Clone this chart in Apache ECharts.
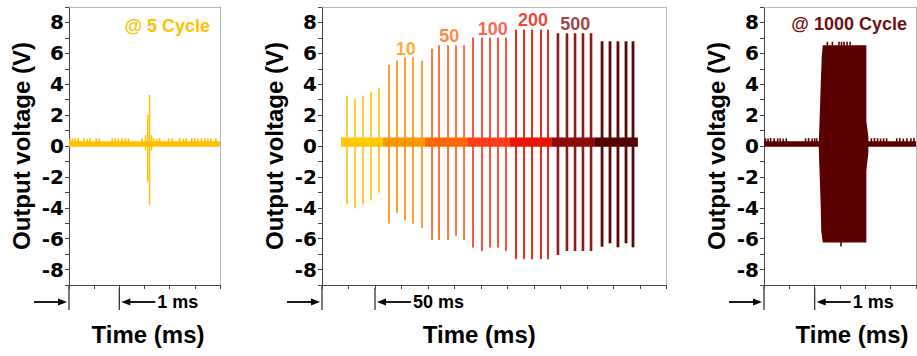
<!DOCTYPE html>
<html><head><meta charset="utf-8">
<script src="https://cdn.jsdelivr.net/npm/echarts@6/dist/echarts.min.js"></script>
<style>html,body{margin:0;padding:0;background:#fff}#c{width:917px;height:356px}</style>
</head><body><div id="c"></div>
<script>
// ================= DATA (time in ms, voltage in V) =================
var yTickLabels = [-8, -6, -4, -2, 0, 2, 4, 6, 8];
// Panel A : @ 5 Cycle
var aBand = [0, 3, -0.05, 0.3];
var aNoiseT = [0.02,0.07,0.12,0.18,0.30,0.36,0.42,0.54,0.60,0.86,0.92,0.98,1.05,1.12,1.18,1.45,1.68,1.74,1.80,1.98,2.05,2.20,2.27,2.33,2.44,2.50,2.56,2.63,2.70,2.76,2.82,2.92];
var aNoiseV = [0.50,0.48,0.52,0.50,0.50,0.46,0.52,0.50,0.48,0.50,0.52,0.48,0.50,0.52,0.50,0.50,0.50,0.48,0.52,0.50,0.50,0.52,0.48,0.50,0.50,0.52,0.48,0.50,0.52,0.50,0.48,0.50];
var aPulseT  = [1.52, 1.565, 1.60, 1.64];
var aPulseHi = [0.70, 2.00, 3.30, 0.70];
var aPulseLo = [-0.30, -2.30, -3.80, -0.30];

// Panel B : pulse trains at 5 / 10 / 50 / 100 / 200 / 500 / 1000 cycles
var bGroupNames = ['5', '10', '50', '100', '200', '500', '1000'];
var bGroupStart = [17.9, 57.5, 97.2, 137.7, 177.4, 217.0, 257.5];
var bGroupEnd   = [57.5, 97.2, 137.7, 177.4, 217.0, 257.5, 298.0];
var bBand = [-0.05, 0.55];
var bPulseT = [
  [23.6, 31.1, 38.7, 46.2, 53.8],
  [63.2, 70.8, 78.3, 85.8, 94.3],
  [103.8, 110.4, 118.9, 126.4, 134.0],
  [142.5, 150.9, 158.5, 166.0, 173.6],
  [183.0, 190.6, 198.1, 206.6, 213.2],
  [222.6, 231.1, 238.7, 246.2, 253.8],
  [264.2, 271.7, 279.2, 286.8, 293.4]
];
var bPulseHi = [
  [3.26, 3.04, 3.26, 3.52, 3.78],
  [5.26, 5.54, 5.76, 5.76, 5.52],
  [6.30, 6.52, 6.52, 6.52, 6.52],
  [7.02, 7.02, 7.02, 7.02, 7.02],
  [7.54, 7.54, 7.54, 7.54, 7.54],
  [7.30, 7.30, 7.30, 7.30, 7.30],
  [6.78, 6.78, 6.78, 6.78, 6.78]
];
var bPulseLo = [
  [-3.78, -4.04, -3.78, -3.52, -3.02],
  [-5.03, -4.33, -4.81, -5.03, -5.31],
  [-6.08, -6.08, -6.08, -5.81, -6.08],
  [-6.58, -6.80, -6.58, -6.58, -6.80],
  [-7.33, -7.33, -7.33, -7.33, -7.33],
  [-7.06, -6.80, -6.80, -6.80, -6.80],
  [-6.52, -6.30, -6.56, -6.30, -6.56]
];
var bLabelText = ['10', '50', '100', '200', '500'];
var bLabelT    = [79, 120, 161, 199, 239];
var bLabelV    = [6.3, 7.1, 7.6, 8.15, 7.9];

// Panel C : @ 1000 Cycle
var cBand = [0, 3, -0.05, 0.3];
var cNoiseT = [0.03,0.08,0.13,0.20,0.27,0.32,0.38,0.44,0.82,0.88,0.95,1.00,1.04,2.12,2.18,2.24,2.30,2.36,2.42,2.62,2.68,2.75,2.82,2.90,2.96];
var cNoiseV = [0.50,0.48,0.52,0.50,0.50,0.50,0.48,0.50,0.50,0.52,0.48,0.50,0.50,0.50,0.52,0.50,0.48,0.50,0.50,0.50,0.52,0.48,0.50,0.50,0.52];
var cBlockT = [1.16, 2.02, 2.02, 2.04, 2.06, 2.06, 2.04, 2.02, 2.02, 1.16, 1.13, 1.12, 1.10, 1.08, 1.10, 1.12, 1.14];
var cBlockV = [6.52, 6.52, 1.60, 1.10, 0.60, -0.40, -1.00, -1.60, -6.25, -6.25, -5.50, -4.00, -2.00, 0.00, 2.00, 4.00, 5.80];
var cTipT  = [1.25, 1.35, 1.48, 1.53, 1.58, 1.64, 1.70, 1.52];
var cTipHi = [6.75, 6.75, 6.75, 6.75, 6.75, 6.75, 6.75, -6.20];
var cTipLo = [6.50, 6.50, 6.50, 6.50, 6.50, 6.50, 6.50, -6.50];

// ================= STYLE =================
var cA = '#FFC000';
var cC = '#5A0000';
var bandColors  = ['#FFC800', '#FF9600', '#FF6600', '#FF3C1E', '#E81400', '#8C0A0A', '#520000'];
var pulseColors = ['#FFCF3A', '#FFA02E', '#FF7540', '#FF5038', '#F02A14', '#8E1A1A', '#5C0808'];
var pulseWidths = [2, 2, 2, 2, 2, 2.6, 2.8];
var labelColors = ['#FF9900', '#FF6A10', '#FF3A20', '#E81400', '#8B1010'];
var SANS = '"Liberation Sans", Arial, sans-serif';
var TICKF = '"DejaVu Sans", sans-serif';

var grids = [
  {left: 69, top: 7, width: 151, height: 278},
  {left: 322, top: 7, width: 344.5, height: 278},
  {left: 764, top: 7, width: 152, height: 278}
];
var xSpec = [{max: 3, interval: 0.5}, {max: 325, interval: 25}, {max: 3, interval: 0.5}];
var xNamePad = [[0, 0, 0, 7], [0, 30, 0, 0], [0, 0, 0, 24]];

function yLabelFmt(v) {
  for (var k = 0; k < yTickLabels.length; k++) if (yTickLabels[k] === v) return String(v);
  return '';
}

var xAxes = [], yAxes = [];
for (var i = 0; i < 3; i++) {
  xAxes.push({
    type: 'value', gridIndex: i, position: 'bottom', min: 0, max: xSpec[i].max, interval: xSpec[i].interval,
    name: 'Time (ms)', nameLocation: 'middle', nameGap: 37,
    nameTextStyle: {fontFamily: SANS, fontWeight: 'bold', fontSize: 24, color: '#000', padding: xNamePad[i]},
    axisLine: {show: true, onZero: false, lineStyle: {color: '#444', width: 1}},
    axisTick: {show: true, length: 4, lineStyle: {color: '#444'}},
    axisLabel: {show: false}, splitLine: {show: false}
  });
  yAxes.push({
    type: 'value', gridIndex: i, position: 'left', min: -9, max: 9, interval: 1,
    name: 'Output voltage (V)', nameLocation: 'middle', nameGap: 36,
    nameTextStyle: {fontFamily: SANS, fontWeight: 'bold', fontSize: 24, color: '#000'},
    axisLine: {show: true, onZero: false, lineStyle: {color: '#444', width: 1}},
    axisTick: {show: true, length: 4, lineStyle: {color: '#444'}},
    axisLabel: {margin: 5, color: '#000', fontFamily: TICKF, fontWeight: 'bold', fontSize: 20, formatter: yLabelFmt},
    splitLine: {show: false}
  });
}
for (var j = 0; j < 3; j++) {
  xAxes.push({type: 'value', gridIndex: j, position: 'top', min: 0, max: xSpec[j].max,
    axisLine: {show: true, onZero: false, lineStyle: {color: '#b8b8b8'}}, axisTick: {show: false}, axisLabel: {show: false}, splitLine: {show: false}});
  yAxes.push({type: 'value', gridIndex: j, position: 'right', min: -9, max: 9,
    axisLine: {show: true, onZero: false, lineStyle: {color: '#b8b8b8'}}, axisTick: {show: false}, axisLabel: {show: false}, splitLine: {show: false}});
}

function vlineSeries(gi, data, colorFn, widthFn, z) {
  return {
    type: 'custom', xAxisIndex: gi, yAxisIndex: gi, z: z || 2, silent: true, clip: true,
    encode: {x: 0, y: [1, 2]}, data: data,
    renderItem: function (params, api) {
      var p1 = api.coord([api.value(0), api.value(1)]);
      var p2 = api.coord([api.value(0), api.value(2)]);
      var g = api.value(3);
      return {type: 'line', shape: {x1: p1[0], y1: p1[1], x2: p2[0], y2: p2[1]},
        style: {stroke: colorFn(g), lineWidth: widthFn(g)}};
    }
  };
}
function rectSeries(gi, data, colorFn, z) {
  return {
    type: 'custom', xAxisIndex: gi, yAxisIndex: gi, z: z || 3, silent: true, clip: true,
    encode: {x: [0, 1], y: [2, 3]}, data: data,
    renderItem: function (params, api) {
      var p1 = api.coord([api.value(0), api.value(3)]);
      var p2 = api.coord([api.value(1), api.value(2)]);
      return {type: 'rect', shape: {x: p1[0], y: p1[1], width: p2[0] - p1[0], height: p2[1] - p1[1]},
        style: {fill: colorFn(api.value(4))}};
    }
  };
}

var aNoiseData = aNoiseT.map(function (t, k) { return [t, 0.25, aNoiseV[k], 0]; });
var aPulseData = aPulseT.map(function (t, k) { return [t, aPulseLo[k], aPulseHi[k], 0]; });
var bPulseData = [];
bPulseT.forEach(function (arr, g) { arr.forEach(function (t, k) { bPulseData.push([t, bPulseLo[g][k], bPulseHi[g][k], g]); }); });
var bBandData = bGroupStart.map(function (s, g) { return [s, bGroupEnd[g], bBand[0], bBand[1], g]; });
var cNoiseData = cNoiseT.map(function (t, k) { return [t, 0.25, cNoiseV[k], 0]; });
var cTipData = cTipT.map(function (t, k) { return [t, cTipLo[k], cTipHi[k], 0]; });

var series = [
  rectSeries(0, [[aBand[0], aBand[1], aBand[2], aBand[3], 0]], function () { return cA; }, 2),
  vlineSeries(0, aNoiseData, function () { return cA; }, function () { return 1.6; }, 2),
  vlineSeries(0, aPulseData, function () { return cA; }, function () { return 1.5; }, 3),

  vlineSeries(1, bPulseData, function (g) { return pulseColors[g]; }, function (g) { return pulseWidths[g]; }, 2),
  rectSeries(1, bBandData, function (g) { return bandColors[g]; }, 3),
  {
    type: 'scatter', xAxisIndex: 1, yAxisIndex: 1, symbolSize: 0, silent: true, z: 5,
    data: bLabelT.map(function (t, k) { return {value: [t, bLabelV[k]], name: bLabelText[k], label: {color: labelColors[k]}}; }),
    label: {show: true, position: 'inside', formatter: function (p) { return p.name; },
      fontFamily: SANS, fontWeight: 'bold', fontSize: 18}
  },

  rectSeries(2, [[cBand[0], cBand[1], cBand[2], cBand[3], 0]], function () { return cC; }, 2),
  vlineSeries(2, cNoiseData, function () { return cC; }, function () { return 1.6; }, 2),
  {
    type: 'custom', xAxisIndex: 2, yAxisIndex: 2, z: 3, silent: true, clip: true,
    encode: {x: 0, y: 1}, data: cBlockT.map(function (t, k) { return [t, cBlockV[k]]; }),
    renderItem: function (params, api) {
      if (params.dataIndex !== 0) return null;
      var pts = cBlockT.map(function (t, k) { return api.coord([t, cBlockV[k]]); });
      return {type: 'polygon', shape: {points: pts}, style: {fill: cC}};
    }
  },
  vlineSeries(2, cTipData, function () { return cC; }, function () { return 1.6; }, 3)
];

var chart = echarts.init(document.getElementById('c'), null, {renderer: 'svg'});
chart.setOption({
  animation: false,
  backgroundColor: '#fff',
  grid: grids,
  xAxis: xAxes,
  yAxis: yAxes,
  series: series
});

function scaleBar(gi, unit, label) {
  var p0 = chart.convertToPixel({gridIndex: gi}, [0, -9]);
  var p1 = chart.convertToPixel({gridIndex: gi}, [unit, -9]);
  var x0 = p0[0], x1 = p1[0], yA = p0[1], ya = yA + 17;
  var ln = {stroke: '#000', lineWidth: 1.8};
  return [
    {type: 'line', shape: {x1: x0, y1: yA, x2: x0, y2: yA + 25}, style: {stroke: '#333', lineWidth: 1.3}},
    {type: 'line', shape: {x1: x1, y1: yA + 3, x2: x1, y2: yA + 25}, style: {stroke: '#333', lineWidth: 1.3}},
    {type: 'line', shape: {x1: x0 - 35, y1: ya, x2: x0 - 9, y2: ya}, style: ln},
    {type: 'polygon', shape: {points: [[x0 - 2, ya], [x0 - 11, ya - 3.5], [x0 - 11, ya + 3.5]]}, style: {fill: '#000'}},
    {type: 'line', shape: {x1: x1 + 10, y1: ya, x2: x1 + 36, y2: ya}, style: ln},
    {type: 'polygon', shape: {points: [[x1 + 2, ya], [x1 + 11, ya - 3.5], [x1 + 11, ya + 3.5]]}, style: {fill: '#000'}},
    {type: 'text', style: {x: x1 + 38, y: ya, text: label, fill: '#000', verticalAlign: 'middle', align: 'left',
      font: 'bold 18px ' + SANS}}
  ];
}
var gfx = [].concat(scaleBar(0, 1, '1 ms'), scaleBar(1, 50, '50 ms'), scaleBar(2, 1, '1 ms'));
gfx.push({type: 'text', style: {x: 210, y: 26, text: '@ 5 Cycle', fill: cA, align: 'right', verticalAlign: 'middle', font: 'bold 18px ' + SANS}});
gfx.push({type: 'text', style: {x: 907, y: 24, text: '@ 1000 Cycle', fill: '#6E1212', align: 'right', verticalAlign: 'middle', font: 'bold 18px ' + SANS}});
chart.setOption({graphic: {elements: gfx}});
</script>
</body></html>
